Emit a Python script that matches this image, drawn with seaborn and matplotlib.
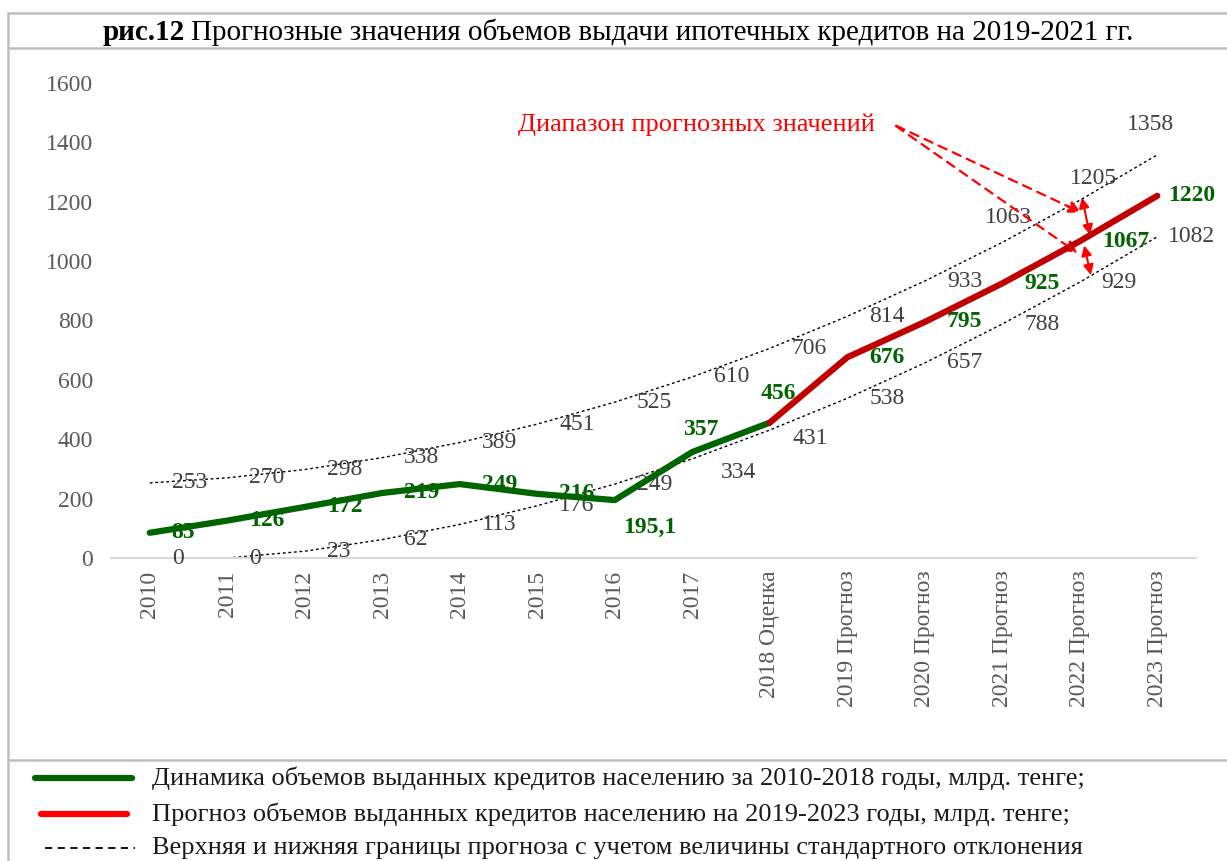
import numpy as np
import matplotlib
matplotlib.use("Agg")
import matplotlib.pyplot as plt
import seaborn as sns
from matplotlib.lines import Line2D

# data
years = ["2010", "2011", "2012", "2013", "2014", "2015", "2016", "2017",
         "2018 Оценка", "2019 Прогноз", "2020 Прогноз", "2021 Прогноз",
         "2022 Прогноз", "2023 Прогноз"]
actual = [85, 126, 172, 219, 249, 216, 195.1, 357, 456]          # 2010-2018
forecast = [456, 676, 795, 925, 1067, 1220]                       # 2018-2023
upper = [253, 270, 298, 338, 389, 451, 525, 610, 706, 814, 933, 1063, 1205, 1358]
lower = [0, 0, 23, 62, 113, 176, 249, 334, 431, 538, 657, 788, 929, 1082]
main_labels = ["85", "126", "172", "219", "249", "216", "195,1", "357",
               "456", "676", "795", "925", "1067", "1220"]

title_bold = "рис.12"
title_rest = "Прогнозные значения объемов выдачи ипотечных кредитов на 2019-2021 гг."
legend_texts = [
    "Динамика объемов выданных кредитов населению за 2010-2018 годы, млрд. тенге;",
    "Прогноз объемов выданных кредитов населению на 2019-2023 годы, млрд. тенге;",
    "Верхняя и нижняя границы прогноза с учетом величины стандартного отклонения",
]
note_text = "Диапазон прогнозных значений"

sns.set_theme(style="white")
plt.rcParams["font.family"] = ["Liberation Serif", "DejaVu Serif"]

W, H = 1227, 861
fig = plt.figure(figsize=(W / 100, H / 100), dpi=100)


def fx(x):
    return x / W


def fy(y):
    return 1 - y / H


ax = fig.add_axes([fx(111), fy(558), (1196 - 111) / W, (558 - 83) / H])

x_all = np.arange(len(years))
x_act = x_all[:len(actual)]
x_fc = x_all[len(actual) - 1:]

green = "#006400"
dark_red = "#C00000"
gray_txt = "#404040"
lab_fs = 17

sns.lineplot(x=x_all, y=upper, ax=ax, color="black", linewidth=1,
             linestyle=(0, (2, 2)), zorder=2)
sns.lineplot(x=x_all, y=lower, ax=ax, color="black", linewidth=1,
             linestyle=(0, (2, 2)), zorder=2)
sns.lineplot(x=x_act, y=actual, ax=ax, color=green, linewidth=4.5, zorder=4)
sns.lineplot(x=x_fc, y=forecast, ax=ax, color=dark_red, linewidth=4.5, zorder=4)

ax.set_xlim(-0.5, 13.5)
ax.set_ylim(0, 1600)
ax.set_yticks(range(0, 1601, 200))
ax.set_xticks(x_all)
ax.set_xticklabels(years, rotation=90)
ax.tick_params(axis="both", length=0, labelsize=17, colors="#595959")
ax.tick_params(axis="y", pad=13)
ax.tick_params(axis="x", pad=9)
for s in ["left", "right", "top"]:
    ax.spines[s].set_visible(False)
ax.spines["bottom"].set_color("#D9D9D9")
ax.spines["bottom"].set_linewidth(1.5)
ax.set_xlabel("")
ax.set_ylabel("")

# data labels (offsets in pixels from the point)
main_vals = actual[:-1] + forecast
main_off = {6: (8, -27), 7: (-9, 23), 8: (-9, 29), 13: (11, 0)}
for i, (v, t) in enumerate(zip(main_vals, main_labels)):
    dx, dy = main_off.get(i, (22, 0))
    ax.annotate(t, (i, v), xytext=(dx, dy), textcoords="offset pixels",
                ha="left", va="center", fontsize=lab_fs, fontweight="bold",
                color=green, zorder=3)

up_off = {11: (-17, 25), 12: (-10, 22), 13: (-30, 30)}
for i, v in enumerate(upper):
    dx, dy = up_off.get(i, (22, 0))
    ax.annotate(str(v), (i, v), xytext=(dx, dy), textcoords="offset pixels",
                ha="left", va="center", fontsize=lab_fs, color=gray_txt,
                zorder=3)

lo_off = {7: (29, -14), 8: (23, -8), 13: (11, 0)}
for i, v in enumerate(lower):
    dx, dy = lo_off.get(i, (22, 0))
    ax.annotate(str(v), (i, v), xytext=(dx, dy), textcoords="offset pixels",
                ha="left", va="center", fontsize=lab_fs, color=gray_txt,
                zorder=3)

# range annotation
red = "#FF0000"
ax.text(9.6 - 0.25, 1458, note_text, ha="right", va="center", fontsize=19,
        color=red)
for tx, ty in [(12.05, 1160), (12.0, 1022)]:
    ax.annotate("", xy=(tx, ty), xytext=(9.6, 1460),
                arrowprops=dict(arrowstyle="-|>", color=red, lw=1.6,
                                linestyle=(0, (4, 3)), mutation_scale=18))
ax.annotate("", xy=(12.14, forecast[4] + 12), xytext=(12.02, upper[12] + 18),
            arrowprops=dict(arrowstyle="<|-|>", color=red, lw=1.5,
                            mutation_scale=15))
ax.annotate("", xy=(12.15, lower[12] + 15), xytext=(12.05, forecast[4] - 5),
            arrowprops=dict(arrowstyle="<|-|>", color=red, lw=1.5,
                            mutation_scale=15))

# frame lines
border = "#BFBFBF"
for (x0, y0, x1, y1) in [(8, 13, W, 13), (8, 48, W, 48), (8, 760, W, 760),
                         (8, 13, 8, H)]:
    fig.add_artist(Line2D([fx(x0), fx(x1)], [fy(y0), fy(y1)], color=border,
                          linewidth=1.8))

# title: bold prefix + regular text
renderer = fig.canvas.get_renderer()
tb = fig.text(fx(103), fy(32), title_bold, ha="left", va="center",
              fontsize=21, fontweight="bold", color="black")
bb = tb.get_window_extent(renderer)
fig.text(fx(bb.x1 + 6), fy(32), title_rest, ha="left", va="center",
         fontsize=21, color="black")

# legend
leg_rows = [(778, green, 4.5, "-", 35, 132), (814, red, 4.5, "-", 41, 127),
            (848, "black", 1.3, (0, (4, 3)), 45, 135)]
for (yy, c, lw, ls, x0, x1), txt in zip(leg_rows, legend_texts):
    fig.add_artist(Line2D([fx(x0), fx(x1)], [fy(yy), fy(yy)], color=c,
                          linewidth=lw, linestyle=ls))
    fig.text(fx(152), fy(yy), txt, ha="left", va="center", fontsize=19,
             color="#1a1a1a")

fig.savefig("out.png", dpi=100)
